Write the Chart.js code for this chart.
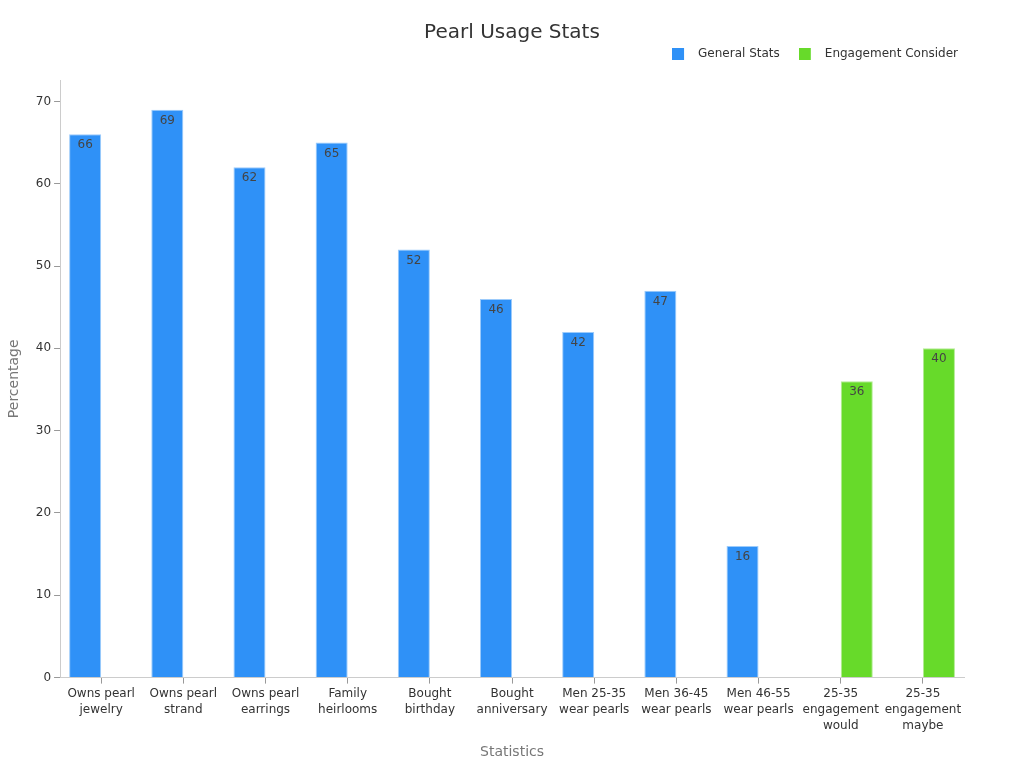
<!DOCTYPE html>
<html>
<head>
<meta charset="utf-8">
<script src="https://cdn.jsdelivr.net/npm/chart.js@4/dist/chart.umd.min.js"></script>
<style>
  html, body { margin: 0; padding: 0; background: #fff; }
  #wrap { width: 1024px; height: 768px; position: relative; }
</style>
</head>
<body>
<div id="wrap"><canvas id="chart"></canvas></div>
<script>
const TITLE = 'Pearl Usage Stats';
const LABELS = [
  ['Owns pearl', 'jewelry'], ['Owns pearl', 'strand'], ['Owns pearl', 'earrings'],
  ['Family', 'heirlooms'], ['Bought', 'birthday'], ['Bought', 'anniversary'],
  ['Men 25-35', 'wear pearls'], ['Men 36-45', 'wear pearls'], ['Men 46-55', 'wear pearls'],
  ['25-35', 'engagement', 'would'], ['25-35', 'engagement', 'maybe']
];
const GENERAL = [66, 69, 62, 65, 52, 46, 42, 47, 16, null, null];
const ENGAGE = [null, null, null, null, null, null, null, null, null, 36, 40];
const Y_TICKS = [0, 10, 20, 30, 40, 50, 60, 70];

const FONT = 'DejaVu Sans';
const BLUE = '#2f91f7';
const GREEN = '#67da2a';

// legend marker: 12px square with blank room after it, so the text sits further right
function legendMarker(color) {
  const c = document.createElement('canvas');
  c.width = 20; c.height = 12;
  const g = c.getContext('2d');
  g.fillStyle = color;
  g.fillRect(0, 0, 12, 12);
  return c;
}

// title centred on the whole canvas, plus value labels inside the bar tops
const extras = {
  id: 'extras',
  beforeInit(chart) {
    const fit = chart.legend.fit;
    chart.legend.fit = function () { fit.call(this); this.height += 10; };
  },
  afterDraw(chart) {
    const ctx = chart.ctx;
    ctx.save();
    ctx.font = '20px ' + FONT;
    ctx.fillStyle = '#333';
    ctx.textAlign = 'center';
    ctx.textBaseline = 'middle';
    ctx.fillText(TITLE, chart.width / 2, 33);

    ctx.font = '12px ' + FONT;
    ctx.fillStyle = '#444';
    ctx.textBaseline = 'top';
    chart.data.datasets.forEach((ds, i) => {
      chart.getDatasetMeta(i).data.forEach((bar, j) => {
        if (ds.data[j] == null) return;
        ctx.fillText(ds.data[j], bar.x, bar.y + 5);
      });
    });
    ctx.restore();
  }
};

new Chart(document.getElementById('chart'), {
  type: 'bar',
  data: {
    labels: LABELS,
    datasets: [
      { label: 'General Stats', data: GENERAL, backgroundColor: BLUE, borderColor: '#9ccbfb', borderWidth: 1, pointStyle: legendMarker(BLUE) },
      { label: 'Engagement Consider', data: ENGAGE, backgroundColor: GREEN, borderColor: '#b3ec94', borderWidth: 1, pointStyle: legendMarker(GREEN) }
    ]
  },
  options: {
    responsive: true, maintainAspectRatio: false, animation: false,
    categoryPercentage: 0.78, barPercentage: 1,
    layout: { padding: { left: 2, right: 47, top: 29, bottom: 3 } },
    plugins: {
      legend: {
        align: 'end',
        labels: { color: '#333', font: { family: FONT, size: 12 }, usePointStyle: true, pointStyleWidth: 20, boxHeight: 12, padding: 19 }
      },
      tooltip: { enabled: false }
    },
    scales: {
      x: {
        grid: { display: true, drawOnChartArea: false, offset: false, tickLength: 6, color: '#999' },
        border: { color: '#ccc' },
        ticks: { color: '#333', font: { family: FONT, size: 12, lineHeight: 1.35 }, maxRotation: 0, autoSkip: false, padding: 2 },
        title: { display: true, text: 'Statistics', color: '#777', font: { family: FONT, size: 14 }, padding: { top: 8 } }
      },
      y: {
        min: 0, max: 72.6,
        afterBuildTicks: axis => { axis.ticks = Y_TICKS.map(v => ({ value: v })); },
        grid: { display: true, drawOnChartArea: false, tickLength: 6, color: '#999' },
        border: { color: '#ccc' },
        ticks: { color: '#333', font: { family: FONT, size: 12 }, padding: 3 },
        title: { display: true, text: 'Percentage', color: '#777', font: { family: FONT, size: 14 }, padding: { top: 4, bottom: 10 } }
      },
      // empty spacer on the right so the plot ends short of the legend's edge
      spacer: {
        position: 'right',
        grid: { display: false },
        border: { display: false },
        ticks: { display: false },
        afterFit: s => { s.width = 13; }
      }
    }
  },
  plugins: [extras]
});
</script>
</body>
</html>
